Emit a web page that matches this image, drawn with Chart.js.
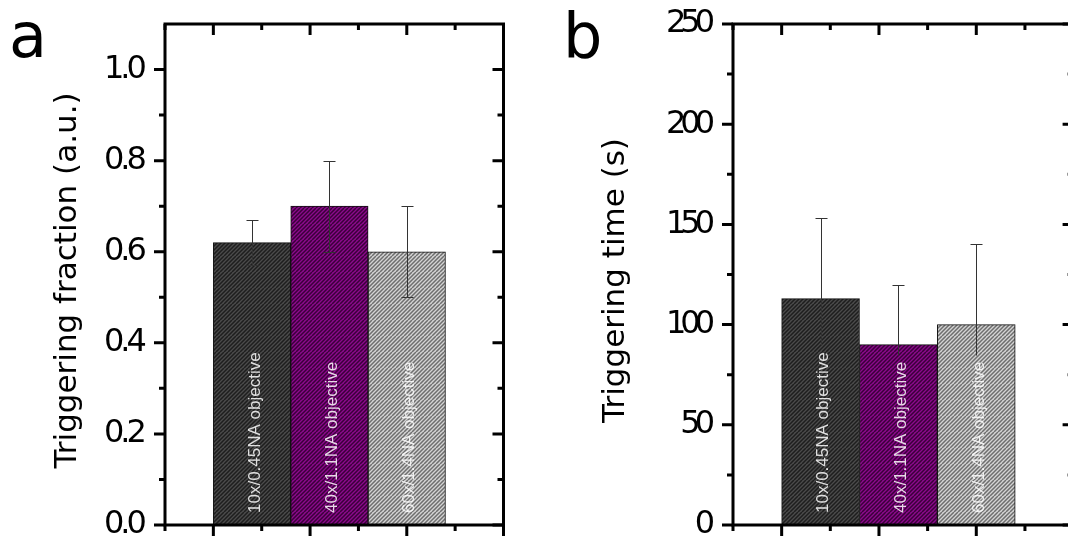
<!DOCTYPE html>
<html>
<head>
<meta charset="utf-8">
<script src="https://cdn.jsdelivr.net/npm/chart.js@4.4.1/dist/chart.umd.min.js"></script>
<style>
  html, body { margin: 0; padding: 0; background: #fff; overflow: hidden; width: 1068px; height: 538px; }
  canvas { position: absolute; top: 0; }
  #chartA { left: 0; }
  #chartB { left: 534px; }
</style>
</head>
<body>
<canvas id="chartA" width="534" height="538"></canvas>
<canvas id="chartB" width="560" height="538"></canvas>
<script>
// ─── DATA ───────────────────────────────────────────────────────
const objectives = ["10x/0.45NA objective", "40x/1.1NA objective", "60x/1.4NA objective"];
const barX = [1.8, 3.4, 5.0];            // bar centres on the (unlabelled) x axis, 0..7

const fraction     = [0.62, 0.70, 0.60];
const fractionLow  = [0.57, 0.60, 0.50];
const fractionHigh = [0.67, 0.80, 0.70];
const fractionTicks = [0, 0.2, 0.4, 0.6, 0.8, 1.0];
const fractionMinor = [0.1, 0.3, 0.5, 0.7, 0.9];

const time     = [113, 90, 100];
const timeHigh = [153, 120, 140];
const timeLow  = [90, 85, 85];            // whiskers disappear under the labels
const timeTicks = [0, 50, 100, 150, 200, 250];
const timeMinor = [25, 75, 125, 175, 225];

const xMajor = [1, 3, 5, 7];
const xMinor = [0, 2, 4, 6];

// ─── STYLE ──────────────────────────────────────────────────────
function hatch(bg, line) {
  const c = document.createElement("canvas");
  c.width = c.height = 16;
  const g = c.getContext("2d");
  g.fillStyle = bg;
  g.fillRect(0, 0, 16, 16);
  g.strokeStyle = line;
  g.lineWidth = 1.5;
  g.beginPath();
  for (let k = -16; k <= 16; k += 4) { g.moveTo(k, 16); g.lineTo(k + 16, 0); }
  g.stroke();
  return g.createPattern(c, "repeat");
}

const FILLS = [
  hatch("#4b4b4b", "#1e1e1e"),
  hatch("#8c0a8c", "#3a003a"),
  hatch("#d4d4d4", "#6e6e6e"),
];

const TICK_FONT = { family: "'DejaVu Sans'", size: 32 };

// ─── PLUGIN: error bars, bar labels, frame, ticks, titles ───────
const decor = {
  id: "decor",
  beforeDraw(chart, args, o) { chart.ctx.letterSpacing = o.tickSpacing; },
  beforeDatasetsDraw(chart) { chart.ctx.letterSpacing = "0px"; },
  afterDatasetsDraw(chart, args, o) {
    const ctx = chart.ctx, y = chart.scales.y;
    const bars = chart.getDatasetMeta(0).data;
    ctx.save();
    ctx.strokeStyle = "#333";
    ctx.lineWidth = 1;
    bars.forEach((b, i) => {
      const cx = Math.round(b.x) + 0.5;
      const t = Math.round(y.getPixelForValue(o.high[i])) + 0.5;
      const l = Math.round(y.getPixelForValue(o.low[i])) + 0.5;
      ctx.beginPath();
      ctx.moveTo(cx, t); ctx.lineTo(cx, l);
      ctx.moveTo(cx - 6, t); ctx.lineTo(cx + 6, t);
      if (o.lowCap) { ctx.moveTo(cx - 6, l); ctx.lineTo(cx + 6, l); }
      ctx.stroke();
    });
    // rotated labels inside the bars
    ctx.font = "17px 'Liberation Sans'";
    ctx.fillStyle = "rgba(255,255,255,0.85)";
    ctx.textAlign = "left";
    ctx.textBaseline = "middle";
    bars.forEach((b, i) => {
      ctx.save();
      ctx.translate(b.x + 3, 513);
      ctx.rotate(-Math.PI / 2);
      ctx.fillText(objectives[i], 0, 0);
      ctx.restore();
    });
    ctx.restore();
  },
  afterDraw(chart, args, o) {
    const ctx = chart.ctx, x = chart.scales.x, y = chart.scales.y;
    const { left, right, top, bottom } = chart.chartArea;
    ctx.save();
    ctx.letterSpacing = "0px";
    ctx.strokeStyle = "#000";
    ctx.lineWidth = 3;
    ctx.strokeRect(left, top, right - left, bottom - top);
    ctx.beginPath();
    const yTick = (v, len) => {
      const p = y.getPixelForValue(v);
      ctx.moveTo(left - len, p); ctx.lineTo(left, p);       // outward
      ctx.moveTo(right - len, p); ctx.lineTo(right, p);     // inward
    };
    const xTick = (v, len) => {
      const p = x.getPixelForValue(v);
      ctx.moveTo(p, top); ctx.lineTo(p, top + len);         // inward
      ctx.moveTo(p, bottom); ctx.lineTo(p, bottom + len);   // outward
    };
    o.yMajor.forEach(v => yTick(v, 11));
    o.yMinor.forEach(v => yTick(v, 6));
    xMajor.forEach(v => xTick(v, 11));
    xMinor.forEach(v => xTick(v, 6));
    ctx.stroke();

    ctx.fillStyle = "#000";
    ctx.font = "31px 'DejaVu Sans'";
    ctx.textAlign = "center";
    ctx.textBaseline = "alphabetic";
    ctx.translate(o.titleX, (top + bottom) / 2 + 6);
    ctx.rotate(-Math.PI / 2);
    ctx.fillText(o.title, 0, 0);
    ctx.setTransform(1, 0, 0, 1, 0, 0);

    ctx.font = "62px 'DejaVu Sans'";
    ctx.textAlign = "left";
    ctx.fillText(o.letter, o.letterX, 57);
    ctx.restore();
  },
};

function panel(id, values, yOpts, plug, pad, yWidth) {
  return new Chart(document.getElementById(id), {
    type: "bar",
    data: {
      datasets: [{
        data: barX.map((x, i) => ({ x, y: values[i] })),
        backgroundColor: FILLS,
        borderColor: "#111",
        borderWidth: 1,
        borderSkipped: false,
        barPercentage: 1,
        categoryPercentage: 1,
      }],
    },
    options: {
      responsive: false,
      animation: false,
      events: [],
      layout: { padding: pad, autoPadding: false },
      plugins: { legend: { display: false }, tooltip: { enabled: false }, decor: plug },
      scales: {
        x: {
          type: "linear", min: 0, max: 7, offset: false, display: false,
          ticks: { stepSize: 7 },
        },
        y: Object.assign({
          // fixed axis width; labels may overhang the plot edges
          afterFit: s => { s.width = yWidth; s.paddingTop = 0; s.paddingBottom = 0; },
          grid: { display: false, drawTicks: false },
          border: { display: false },
        }, yOpts),
      },
    },
    plugins: [decor],
  });
}

// ─── PANEL a ────────────────────────────────────────────────────
panel("chartA", fraction, {
  min: 0, max: 1.1,
  ticks: {
    stepSize: 0.2, includeBounds: false, crossAlign: "far", padding: 0,
    color: "#000", font: TICK_FONT,
    callback: v => fractionTicks.some(t => Math.abs(t - v) < 1e-6) ? v.toFixed(1) : "",
  },
}, {
  low: fractionLow, high: fractionHigh, lowCap: true,
  yMajor: fractionTicks, yMinor: fractionMinor,
  title: "Triggering fraction (a.u.)", titleX: 76,
  letter: "a", letterX: 9, tickSpacing: "-4px",
}, { left: 104, right: 30.5, top: 24, bottom: 13 }, 61);

// ─── PANEL b ────────────────────────────────────────────────────
panel("chartB", time, {
  min: 0, max: 250,
  ticks: {
    stepSize: 50, includeBounds: false, padding: 24,
    color: "#000", font: TICK_FONT,
    callback: v => timeTicks.includes(v) ? String(v) : "",
  },
}, {
  low: timeLow, high: timeHigh, lowCap: false,
  yMajor: timeTicks, yMinor: timeMinor,
  title: "Triggering time (s)", titleX: 90,
  letter: "b", letterX: 29, tickSpacing: "-6px",
}, { left: 0, right: 20.4, top: 24, bottom: 13 }, 199);
</script>
</body>
</html>
